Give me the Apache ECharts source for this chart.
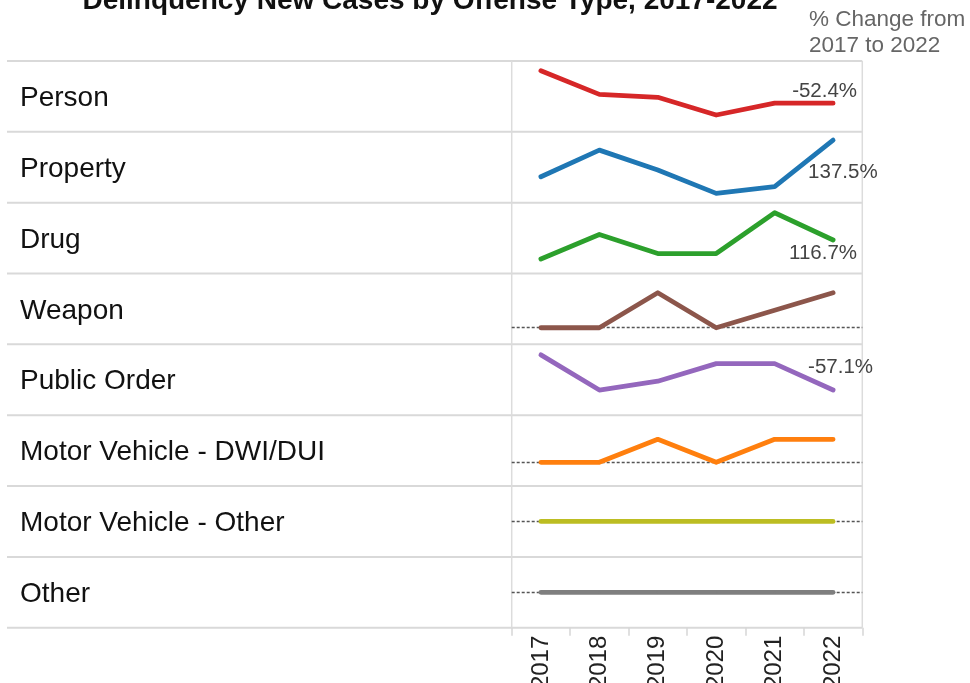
<!DOCTYPE html>
<html>
<head>
<meta charset="utf-8">
<script src="https://cdn.jsdelivr.net/npm/echarts@6/dist/echarts.min.js"></script>
<style>
  html, body { margin: 0; padding: 0; background: #fff; }
  #chart { width: 970px; height: 683px; }
</style>
</head>
<body>
<div id="chart"></div>
<script>
// ---- data ----
const years = ['2017', '2018', '2019', '2020', '2021', '2022'];
const offenses = ['Person', 'Property', 'Drug', 'Weapon', 'Public Order',
  'Motor Vehicle - DWI/DUI', 'Motor Vehicle - Other', 'Other'];
const person = [21, 13, 12, 6, 10, 10];
const property = [8, 16, 10, 3, 5, 19];
const drug = [6, 15, 8, 8, 23, 13];
const weapon = [0, 0, 2, 0, 1, 2];
const publicOrder = [7, 3, 4, 6, 6, 3];
const dwiDui = [0, 0, 1, 0, 1, 1];
const mvOther = [0, 0, 0, 0, 0, 0];
const otherOff = [0, 0, 0, 0, 0, 0];
const seriesValues = [person, property, drug, weapon, publicOrder, dwiDui, mvOther, otherOff];
const titleText = 'Delinquency New Cases by Offense Type, 2017-2022';
const headerLines = ['% Change from', '2017 to 2022'];

// ---- scale / layout / style settings ----
const yRanges = [[0.3, 24.3], [0.2, 21.5], [0.66, 26.7], [-0.95, 3.1], [0.13, 8.2], [-1.03, 2.05], [-1, 1], [-1, 1]];
const colors = ['#d62728', '#1f77b4', '#2ca02c', '#8c564b', '#9467bd', '#ff7f0e', '#bcbd22', '#7f7f7f'];
const labelPlace = [
  { align: 'right', offset: [24, -12] },
  { align: 'left', offset: [-25, 32] },
  { align: 'right', offset: [24, 13] },
  null,
  { align: 'left', offset: [-25, -23] },
  null, null, null
];
const FONT = '"Liberation Sans", Arial, Helvetica, sans-serif';
const plotLeft = 511.7, plotRight = 862.3, top0 = 61, rowH = 70.84;
const nRows = offenses.length;

const grids = [], xAxes = [], yAxes = [], series = [], graphics = [];

for (let i = 0; i < nRows; i++) {
  const top = top0 + i * rowH;
  grids.push({ left: plotLeft, width: plotRight - plotLeft, top: top, height: rowH,
    containLabel: false, outerBoundsMode: 'none' });
  const last = i === nRows - 1;
  xAxes.push({
    type: 'category', gridIndex: i, data: years, boundaryGap: true,
    show: true, position: 'bottom',
    axisLine: { show: false, onZero: false },
    axisTick: { show: last, length: 8, lineStyle: { color: '#d6d6d6', width: 1.5 } },
    axisLabel: { show: last, rotate: 90, fontSize: 24, color: '#222', fontFamily: FONT, margin: 8 },
    splitLine: { show: false }
  });
  yAxes.push({
    type: 'value', gridIndex: i, min: yRanges[i][0], max: yRanges[i][1],
    show: false, splitLine: { show: false }
  });
  const vals = seriesValues[i];
  const first = vals[0], lastV = vals[vals.length - 1];
  const data = vals.map((v, j) => {
    if (j === vals.length - 1 && labelPlace[i] && first !== 0) {
      const pct = ((lastV - first) / first * 100).toFixed(1) + '%';
      return {
        value: v,
        label: {
          show: true, position: 'inside', formatter: pct,
          align: labelPlace[i].align, verticalAlign: 'middle',
          offset: labelPlace[i].offset,
          fontSize: 20.5, color: '#444', fontFamily: FONT
        }
      };
    }
    return v;
  });
  if (yRanges[i][0] < 0) {
    series.push({
      type: 'line', xAxisIndex: i, yAxisIndex: i, data: [], z: 1, silent: true,
      markLine: {
        silent: true, symbol: ['none', 'none'], animation: false, z: 1,
        label: { show: false },
        lineStyle: { type: [3, 2], color: '#555', width: 1.3 },
        emphasis: { disabled: true },
        data: [{ yAxis: 0 }]
      }
    });
  }
  series.push({
    type: 'line', name: offenses[i], xAxisIndex: i, yAxisIndex: i, data: data,
    z: 3, symbol: 'circle', symbolSize: 2, showSymbol: true,
    itemStyle: { color: colors[i] },
    lineStyle: { color: colors[i], width: 4.8, cap: 'round', join: 'round' },
    label: { show: false },
    emphasis: { disabled: true }, silent: true, animation: false
  });
  // row label
  graphics.push({
    type: 'text', x: 20, y: top + rowH / 2 + 2,
    style: { text: offenses[i], fontSize: 28, fill: '#111', fontFamily: FONT, verticalAlign: 'middle' }
  });
}
// separator lines
for (let i = 0; i <= nRows; i++) {
  const y = top0 + i * rowH;
  graphics.push({ type: 'line', z: -1, shape: { x1: 7, y1: y, x2: plotRight, y2: y },
    style: { stroke: '#d9d9d9', lineWidth: 2 } });
}
[plotLeft, plotRight].forEach(x => {
  graphics.push({ type: 'line', z: -1, shape: { x1: x, y1: top0, x2: x, y2: top0 + nRows * rowH },
    style: { stroke: '#dcdcdc', lineWidth: 1.5 } });
});
// title and header
graphics.push({ type: 'text', x: 430, y: 1,
  style: { text: titleText, fontSize: 28, fontWeight: 'bold', fill: '#111', fontFamily: FONT,
    align: 'center', verticalAlign: 'middle' } });
graphics.push({ type: 'text', x: 809, y: 20,
  style: { text: headerLines[0], fontSize: 22.5, fill: '#666', fontFamily: FONT, verticalAlign: 'middle' } });
graphics.push({ type: 'text', x: 809, y: 46,
  style: { text: headerLines[1], fontSize: 22.5, fill: '#666', fontFamily: FONT, verticalAlign: 'middle' } });

const chart = echarts.init(document.getElementById('chart'), null, { renderer: 'canvas' });
chart.setOption({
  animation: false,
  backgroundColor: '#fff',
  grid: grids, xAxis: xAxes, yAxis: yAxes, series: series,
  graphic: graphics
});
</script>
</body>
</html>
